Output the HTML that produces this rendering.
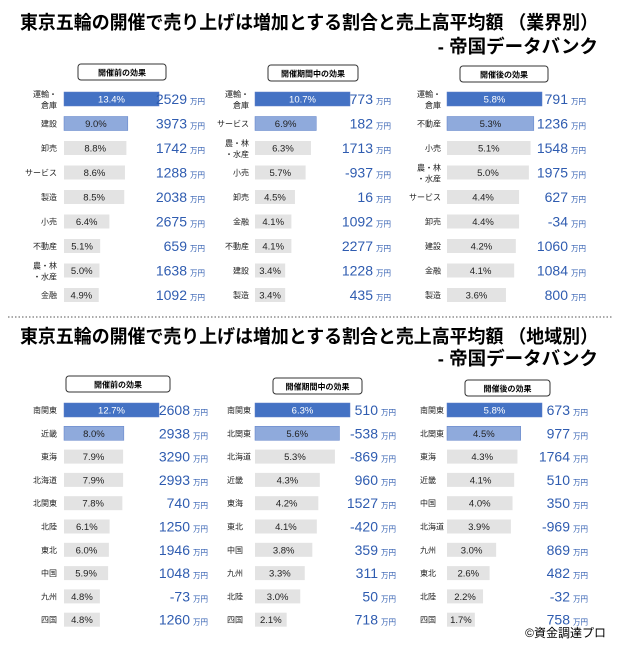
<!DOCTYPE html>
<html><head><meta charset="utf-8">
<style>
html,body{margin:0;padding:0;background:#fff;}
svg{display:block;font-family:"Liberation Sans","Noto Sans CJK JP",sans-serif;}
</style></head>
<body>
<svg id="chart" width="620" height="650" viewBox="0 0 620 650">
<text x="20" y="29" font-size="18.5" font-weight="bold" textLength="578" lengthAdjust="spacingAndGlyphs">東京五輪の開催で売り上げは増加とする割合と売上高平均額 （業界別）</text>
<text x="598" y="53" font-size="18.5" font-weight="bold" text-anchor="end">- 帝国データバンク</text>
<line x1="8" y1="317" x2="612" y2="317" stroke="#555" stroke-dasharray="1.5,2"/>
<text x="20" y="343" font-size="18.5" font-weight="bold" textLength="578" lengthAdjust="spacingAndGlyphs">東京五輪の開催で売り上げは増加とする割合と売上高平均額 （地域別）</text>
<text x="598" y="365" font-size="18.5" font-weight="bold" text-anchor="end">- 帝国データバンク</text>
<text x="606" y="637" font-size="12" text-anchor="end">©資金調達プロ</text>
</svg>
<script>
// Industry panels
const indBeforeCats=["運輸・\n倉庫","建設","卸売","サービス","製造","小売","不動産","農・林\n・水産","金融"];
const indBeforePct=[13.4,9.0,8.8,8.6,8.5,6.4,5.1,5.0,4.9];
const indBeforeAmt=[2529,3973,1742,1288,2038,2675,659,1638,1092];
const indDuringCats=["運輸・\n倉庫","サービス","農・林\n・水産","小売","卸売","金融","不動産","建設","製造"];
const indDuringPct=[10.7,6.9,6.3,5.7,4.5,4.1,4.1,3.4,3.4];
const indDuringAmt=[773,182,1713,-937,16,1092,2277,1228,435];
const indAfterCats=["運輸・\n倉庫","不動産","小売","農・林\n・水産","サービス","卸売","建設","金融","製造"];
const indAfterPct=[5.8,5.3,5.1,5.0,4.4,4.4,4.2,4.1,3.6];
const indAfterAmt=[791,1236,1548,1975,627,-34,1060,1084,800];
// Region panels
const regBeforeCats=["南関東","近畿","東海","北海道","北関東","北陸","東北","中国","九州","四国"];
const regBeforePct=[12.7,8.0,7.9,7.9,7.8,6.1,6.0,5.9,4.8,4.8];
const regBeforeAmt=[2608,2938,3290,2993,740,1250,1946,1048,-73,1260];
const regDuringCats=["南関東","北関東","北海道","近畿","東海","東北","中国","九州","北陸","四国"];
const regDuringPct=[6.3,5.6,5.3,4.3,4.2,4.1,3.8,3.3,3.0,2.1];
const regDuringAmt=[510,-538,-869,960,1527,-420,359,311,50,718];
const regAfterCats=["南関東","北関東","東海","近畿","中国","北海道","九州","東北","北陸","四国"];
const regAfterPct=[5.8,4.5,4.3,4.1,4.0,3.9,3.0,2.6,2.2,1.7];
const regAfterAmt=[673,977,1764,510,350,-969,869,482,-32,758];

const svg=document.getElementById('chart');
const NS='http://www.w3.org/2000/svg';
function mk(tag,attrs,parent){const e=document.createElementNS(NS,tag);for(const k in attrs)e.setAttribute(k,attrs[k]);(parent||svg).appendChild(e);return e;}

function panel(title,cats,pct,amt,o){
  const g=mk('g',{});
  
  
  const hb=mk('rect',{x:o.hx,y:o.hy,width:o.hw,height:16,rx:3,fill:'#fff',stroke:'#333','stroke-width':1},g);
  
  
  const ht=mk('text',{x:o.hx+o.hw/2,y:o.hy+11.5,'font-size':8,'font-weight':'bold','text-anchor':'middle'},g);
  ht.textContent=title;
  
  
  const maxV=Math.max(...pct);
  const xs=v=>v/maxV*95;
  const ys=i=>o.y0+i*o.dy;
  cats.forEach((c,i)=>{
    const y=ys(i);
    const fill=i===0?'#4472c4':(i===1?'#8faadc':'#e3e3e3');
    const r=mk('rect',{x:o.bx,y:y-7,width:xs(pct[i]),height:14,fill:fill,stroke:i<2?'#5b7fc8':'none','stroke-width':0.5},g);
    
    
    const pt=mk('text',{x:o.bx+xs(pct[i])/2,y:y+3.5,'font-size':9.5,'text-anchor':'middle',fill:i===0?'#fff':'#222'},g);
    pt.textContent=pct[i].toFixed(1)+'%';
    
    
    const lines=c.split('\n');
    const lt=mk('text',{x:o.lx,y:y+(lines.length>1?-2:3),'font-size':8,'text-anchor':o.la,fill:'#222'},g);
    lines.forEach((ln,k)=>{const ts=mk('tspan',{x:o.lx,dy:k?11:0},lt);ts.textContent=ln;});
    
    
    const vt=mk('text',{x:o.vx,y:y+5,'font-size':14,'text-anchor':'end',fill:'#2f5cb0'},g);
    vt.textContent=String(amt[i]);
    
    
    const ut=mk('text',{x:o.vx+3,y:y+5,'font-size':7.5,fill:'#2f5cb0'},g);
    ut.textContent='万円';
    
    
  });
}
const tDy=24.5,tY=99,bDy=23.3,bY=410;
panel('開催前の効果',indBeforeCats,indBeforePct,indBeforeAmt,{name:'industry-before-panel',hx:78,hy:64,hw:88,bx:64,lx:57,la:'end',vx:187,y0:tY,dy:tDy});
panel('開催期間中の効果',indDuringCats,indDuringPct,indDuringAmt,{name:'industry-during-panel',hx:268,hy:65,hw:90,bx:255,lx:249,la:'end',vx:373,y0:tY,dy:tDy});
panel('開催後の効果',indAfterCats,indAfterPct,indAfterAmt,{name:'industry-after-panel',hx:460,hy:66,hw:88,bx:447,lx:441,la:'end',vx:568,y0:tY,dy:tDy});
panel('開催前の効果',regBeforeCats,regBeforePct,regBeforeAmt,{name:'region-before-panel',hx:66,hy:376,hw:104,bx:64,lx:57,la:'end',vx:190,y0:bY,dy:bDy});
panel('開催期間中の効果',regDuringCats,regDuringPct,regDuringAmt,{name:'region-during-panel',hx:273,hy:378,hw:89,bx:255,lx:227,la:'start',vx:378,y0:bY,dy:bDy});
panel('開催後の効果',regAfterCats,regAfterPct,regAfterAmt,{name:'region-after-panel',hx:465,hy:380,hw:85,bx:447,lx:420,la:'start',vx:570,y0:bY,dy:bDy});
</script>
</body></html>
